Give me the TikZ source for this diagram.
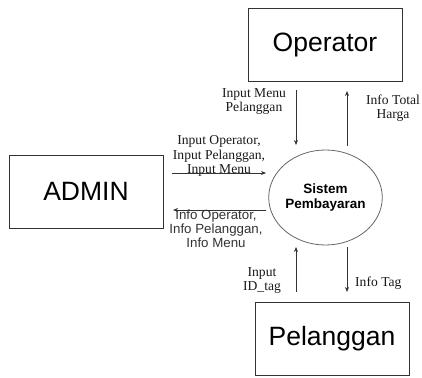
\documentclass[tikz,border=0pt]{standalone}
\usepackage{fontspec}
\setmainfont{Liberation Serif}
\newfontfamily\arial{Liberation Sans}
\usetikzlibrary{arrows.meta,shapes.geometric}
\tikzset{
  entity/.style={draw=black!80, line width=0.9pt, minimum width=154pt, minimum height=73pt,
    inner sep=0pt, font=\arial\fontsize{26.5}{30}\selectfont},
  process/.style={ellipse, draw=black!60, line width=0.8pt, minimum width=105pt,
    minimum height=95pt, inner sep=0pt, align=center,
    font=\arial\bfseries\fontsize{13.5}{15}\selectfont},
  flow/.style={draw=black!80, line width=0.8pt, -{Stealth[length=5pt,width=4pt]}},
  serlabel/.style={align=center, inner sep=0pt, text=black!90,
    font=\fontsize{13.6}{14.2}\selectfont},
  sanslabel/.style={align=center, inner sep=0pt, text=black!80,
    font=\arial\fontsize{13.3}{14}\selectfont}
}
\begin{document}
\begin{tikzpicture}[x=1pt,y=-1pt]
\useasboundingbox (0,0) rectangle (422,377);
\fill[white] (0,0) rectangle (422,377);

% external entities and the process
\node[entity] (op) at (325,44.5) {Operator};
\node[entity] (admin) at (86,191.5) {ADMIN};
\node[entity] (pel) at (332,338.5) {Pelanggan};
\node[process] (sis) at (325.5,197.5) {Sistem\\Pembayaran};

% flow end points
\coordinate (a1) at (296,90);  \coordinate (a2) at (296,145);
\coordinate (b1) at (347,146); \coordinate (b2) at (347,91);
\coordinate (c1) at (172,173); \coordinate (c2) at (266,173);
\coordinate (d1) at (266,210); \coordinate (d2) at (173,210);
\coordinate (e1) at (296,292); \coordinate (e2) at (296,247);
\coordinate (f1) at (347,247); \coordinate (f2) at (347,292);

% data flow labels
\node[serlabel] (la) at (254,101.5) {Input Menu\\Pelanggan};
\node[serlabel] (lb) at (393,108.5) {Info Total\\Harga};
\node[serlabel] (lc) at (219,156) {Input Operator,\\Input Pelanggan,\\Input Menu};
\node[sanslabel] (ld) at (216,229) {Info Operator,\\Info Pelanggan,\\Info Menu};
\node[serlabel] (le) at (262,280.5) {Input\\ID\_tag};
\node[serlabel, anchor=west] (lf) at (355,283) {Info Tag};

% data flows
\draw[flow] (a1) -- (a2);
\draw[flow] (b1) -- (b2);
\draw[flow] (c1) -- (c2);
\draw[flow] (d1) -- (d2);
\draw[flow] (e1) -- (e2);
\draw[flow] (f1) -- (f2);
\end{tikzpicture}
\end{document}
